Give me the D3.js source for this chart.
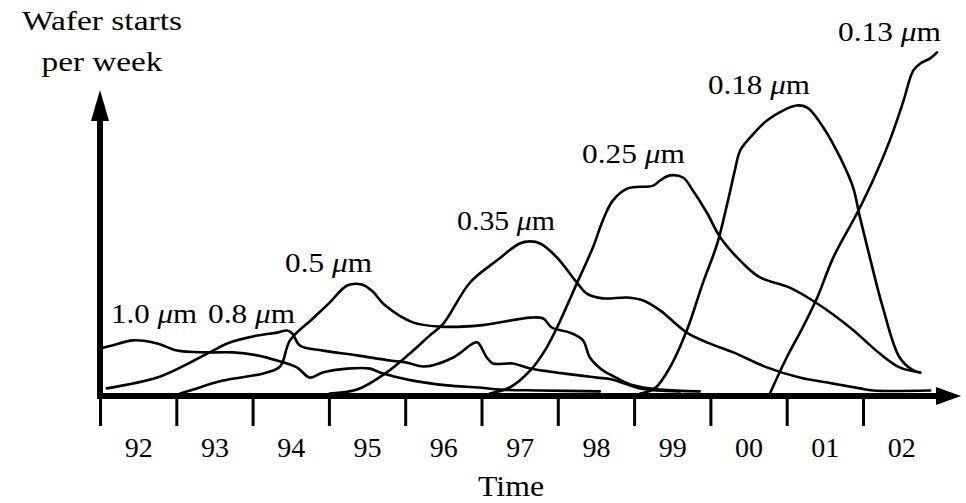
<!DOCTYPE html>
<html><head><meta charset="utf-8">
<script src="https://cdn.jsdelivr.net/npm/d3@7"></script>
<style>html,body{margin:0;padding:0;background:#fff;} svg{display:block;}</style>
</head><body>
<svg id="chart" width="966" height="503"></svg>
<script>
// ---- data ----
const tickYears = [1992,1993,1994,1995,1996,1997,1998,1999,2000,2001,2002];
const tickLabels = ["92","93","94","95","96","97","98","99","00","01","02"];
const nodeNames = ["1.0","0.8","0.5","0.35","0.25","0.18","0.13"];

const s10 = [[1992.00,15],[1992.16,16],[1992.43,17.7],[1992.75,16.7],[1993.01,14.3],[1993.40,13.7],[1993.74,13.7],[1994.06,12.7],[1994.32,11],[1994.58,8.7],[1994.75,5.3],[1994.92,7],[1995.24,8.3],[1995.54,8.3],[1995.67,7],[1996.10,4.3],[1996.55,2.7],[1996.98,2],[1997.24,1.3],[1997.76,1],[1998.55,0.7]];
const s08 = [[1992.09,1.7],[1992.75,5.3],[1993.18,10.3],[1993.48,14.3],[1993.70,17],[1994.06,19.3],[1994.32,20.3],[1994.45,21],[1994.52,20],[1994.62,16],[1994.92,14.3],[1995.37,12.7],[1995.80,11],[1996.02,10.3],[1996.25,9],[1996.63,12],[1996.89,16.7],[1996.95,17],[1997.07,12],[1997.15,10],[1997.41,10],[1997.64,8.3],[1998.07,6.7],[1998.51,5.3],[1998.71,4.7],[1999.08,1.7],[1999.60,0.7]];
const s05 = [[1993.05,0],[1993.18,1],[1993.61,4.3],[1994.14,6.7],[1994.36,9],[1994.49,17.7],[1994.79,25],[1995.01,30.3],[1995.24,36],[1995.43,36.3],[1995.56,34.3],[1995.74,29.3],[1996.10,23.7],[1996.46,22.3],[1996.98,22.7],[1997.64,25.3],[1997.81,25],[1997.92,22],[1998.16,20.3],[1998.33,17.7],[1998.42,12],[1998.59,7.7],[1998.71,6],[1998.95,3],[1999.34,1.3],[1999.86,0.7]];
const s035 = [[1995.01,0],[1995.37,1.3],[1995.74,6.7],[1996.06,13.3],[1996.32,19.3],[1996.50,23.3],[1996.85,37],[1997.20,44.3],[1997.50,50],[1997.64,50.7],[1997.77,50],[1997.99,45.3],[1998.25,37],[1998.38,33.3],[1998.59,31.7],[1998.91,32],[1999.12,31],[1999.34,27.7],[1999.69,20.3],[1999.99,16.7],[2000.30,13.7],[2000.74,8.7],[2001.17,5.3],[2001.61,3.3],[2001.96,1.7],[2002.13,1],[2002.88,1]];
const s025 = [[1997.11,0],[1997.37,2],[1997.64,7.7],[1997.83,14.3],[1997.99,22],[1998.25,36.7],[1998.46,48.7],[1998.59,57.7],[1998.72,64.3],[1998.91,68.3],[1999.25,69.3],[1999.34,71],[1999.47,72.7],[1999.64,72],[1999.77,67.7],[1999.96,60],[2000.13,52],[2000.43,43.3],[2000.65,38.7],[2001.04,35.3],[2001.40,30],[2001.83,22],[2002.22,13.3],[2002.48,8.7],[2002.75,7]];
const s018 = [[1999.08,0],[1999.27,1.7],[1999.47,8.7],[1999.69,21],[1999.90,36.7],[2000.09,50],[2000.23,64.3],[2000.32,74.3],[2000.39,81],[2000.52,85.3],[2000.74,91],[2000.95,94.3],[2001.13,96],[2001.27,95.3],[2001.48,88.7],[2001.70,78.7],[2001.87,68.7],[2001.96,58.7],[2002.09,45.3],[2002.26,28.7],[2002.48,12],[2002.66,7.7],[2002.75,7]];
const s013 = [[2000.78,0],[2001.00,12],[2001.21,22],[2001.40,32],[2001.61,45.3],[2001.92,60],[2002.13,71],[2002.35,84.3],[2002.52,96.7],[2002.66,107.7],[2002.75,110],[2002.88,111.7],[2002.97,113.7]];
const seriesList = [s10, s08, s05, s035, s025, s018, s013];

// ---- layout ----
const FONT = '"Liberation Serif","Times New Roman",Times,serif';
const axisY = 396, axisX = 100;
const svg = d3.select("#chart");
const x = d3.scaleLinear().domain([1992, 2003]).range([100, 939.3]);
const y = d3.scaleLinear().domain([0, 100]).range([393.5, 93.5]);

// curves
svg.append("clipPath").attr("id","clip").append("rect")
  .attr("x",0).attr("y",0).attr("width",966).attr("height",axisY);
const line = d3.line().x(d=>x(d[0])).y(d=>y(d[1])).curve(d3.curveCatmullRom.alpha(0.5));
svg.append("g").attr("clip-path","url(#clip)")
  .selectAll("path").data(seriesList).join("path")
  .attr("d", line).attr("fill","none").attr("stroke","#000")
  .attr("stroke-width",2.6).attr("stroke-linejoin","round").attr("stroke-linecap","round");

// ticks
const tickG = svg.append("g").attr("transform",`translate(0,${axisY})`)
  .call(d3.axisBottom(x).tickValues(tickYears).tickSize(30).tickFormat(""));
tickG.select(".domain").remove();
tickG.selectAll(".tick line").attr("stroke","#000").attr("stroke-width",3);

// tick labels (centered within each year)
const labG = svg.append("g").attr("transform",`translate(0,${axisY})`)
  .call(d3.axisBottom(x).tickValues(tickYears.map(v=>v+0.5)).tickSize(0)
        .tickFormat((d,i)=>tickLabels[i]));
labG.select(".domain").remove();
labG.selectAll(".tick text").attr("y",61).attr("dy",0)
  .attr("font-family",FONT).attr("font-size",28).attr("fill","#000");

// axis lines with arrows
svg.append("line").attr("x1",axisX).attr("y1",axisY+3).attr("x2",axisX).attr("y2",118)
  .attr("stroke","#000").attr("stroke-width",6);
svg.append("path").attr("d",`M${axisX},90 L${axisX+9},121 L${axisX-9},121 Z`).attr("fill","#000");
svg.append("line").attr("x1",axisX-3).attr("y1",axisY).attr("x2",940).attr("y2",axisY)
  .attr("stroke","#000").attr("stroke-width",6);
svg.append("path").attr("d",`M961,${axisY} L936,${axisY-9} L936,${axisY+9} Z`).attr("fill","#000");

// axis titles
function addText(txt, cx, by, size, len){
  svg.append("text").attr("x",cx).attr("y",by).attr("text-anchor","middle")
    .attr("font-family",FONT).attr("font-size",size).attr("fill","#000")
    .attr("textLength",len).attr("lengthAdjust","spacingAndGlyphs").text(txt);
}
addText("Wafer starts", 102, 30, 27, 160);
addText("per week", 102, 71, 27, 121);
addText("Time", 511, 496, 30, 66);

// node labels
const labelPos = [[111,323,86],[208,323,87],[285,272,87],[457,230,98],[582,163,103],[708,94,102],[838,41,103]];
nodeNames.forEach((n,i)=>{
  const [lx,ly,lw] = labelPos[i];
  const t = svg.append("text").attr("x",lx).attr("y",ly)
    .attr("font-family",FONT).attr("font-size",27).attr("fill","#000")
    .attr("textLength",lw).attr("lengthAdjust","spacingAndGlyphs");
  t.append("tspan").text(n + " ");
  t.append("tspan").attr("font-style","italic").text("\u03bc");
  t.append("tspan").text("m");
});
</script>
</body></html>
